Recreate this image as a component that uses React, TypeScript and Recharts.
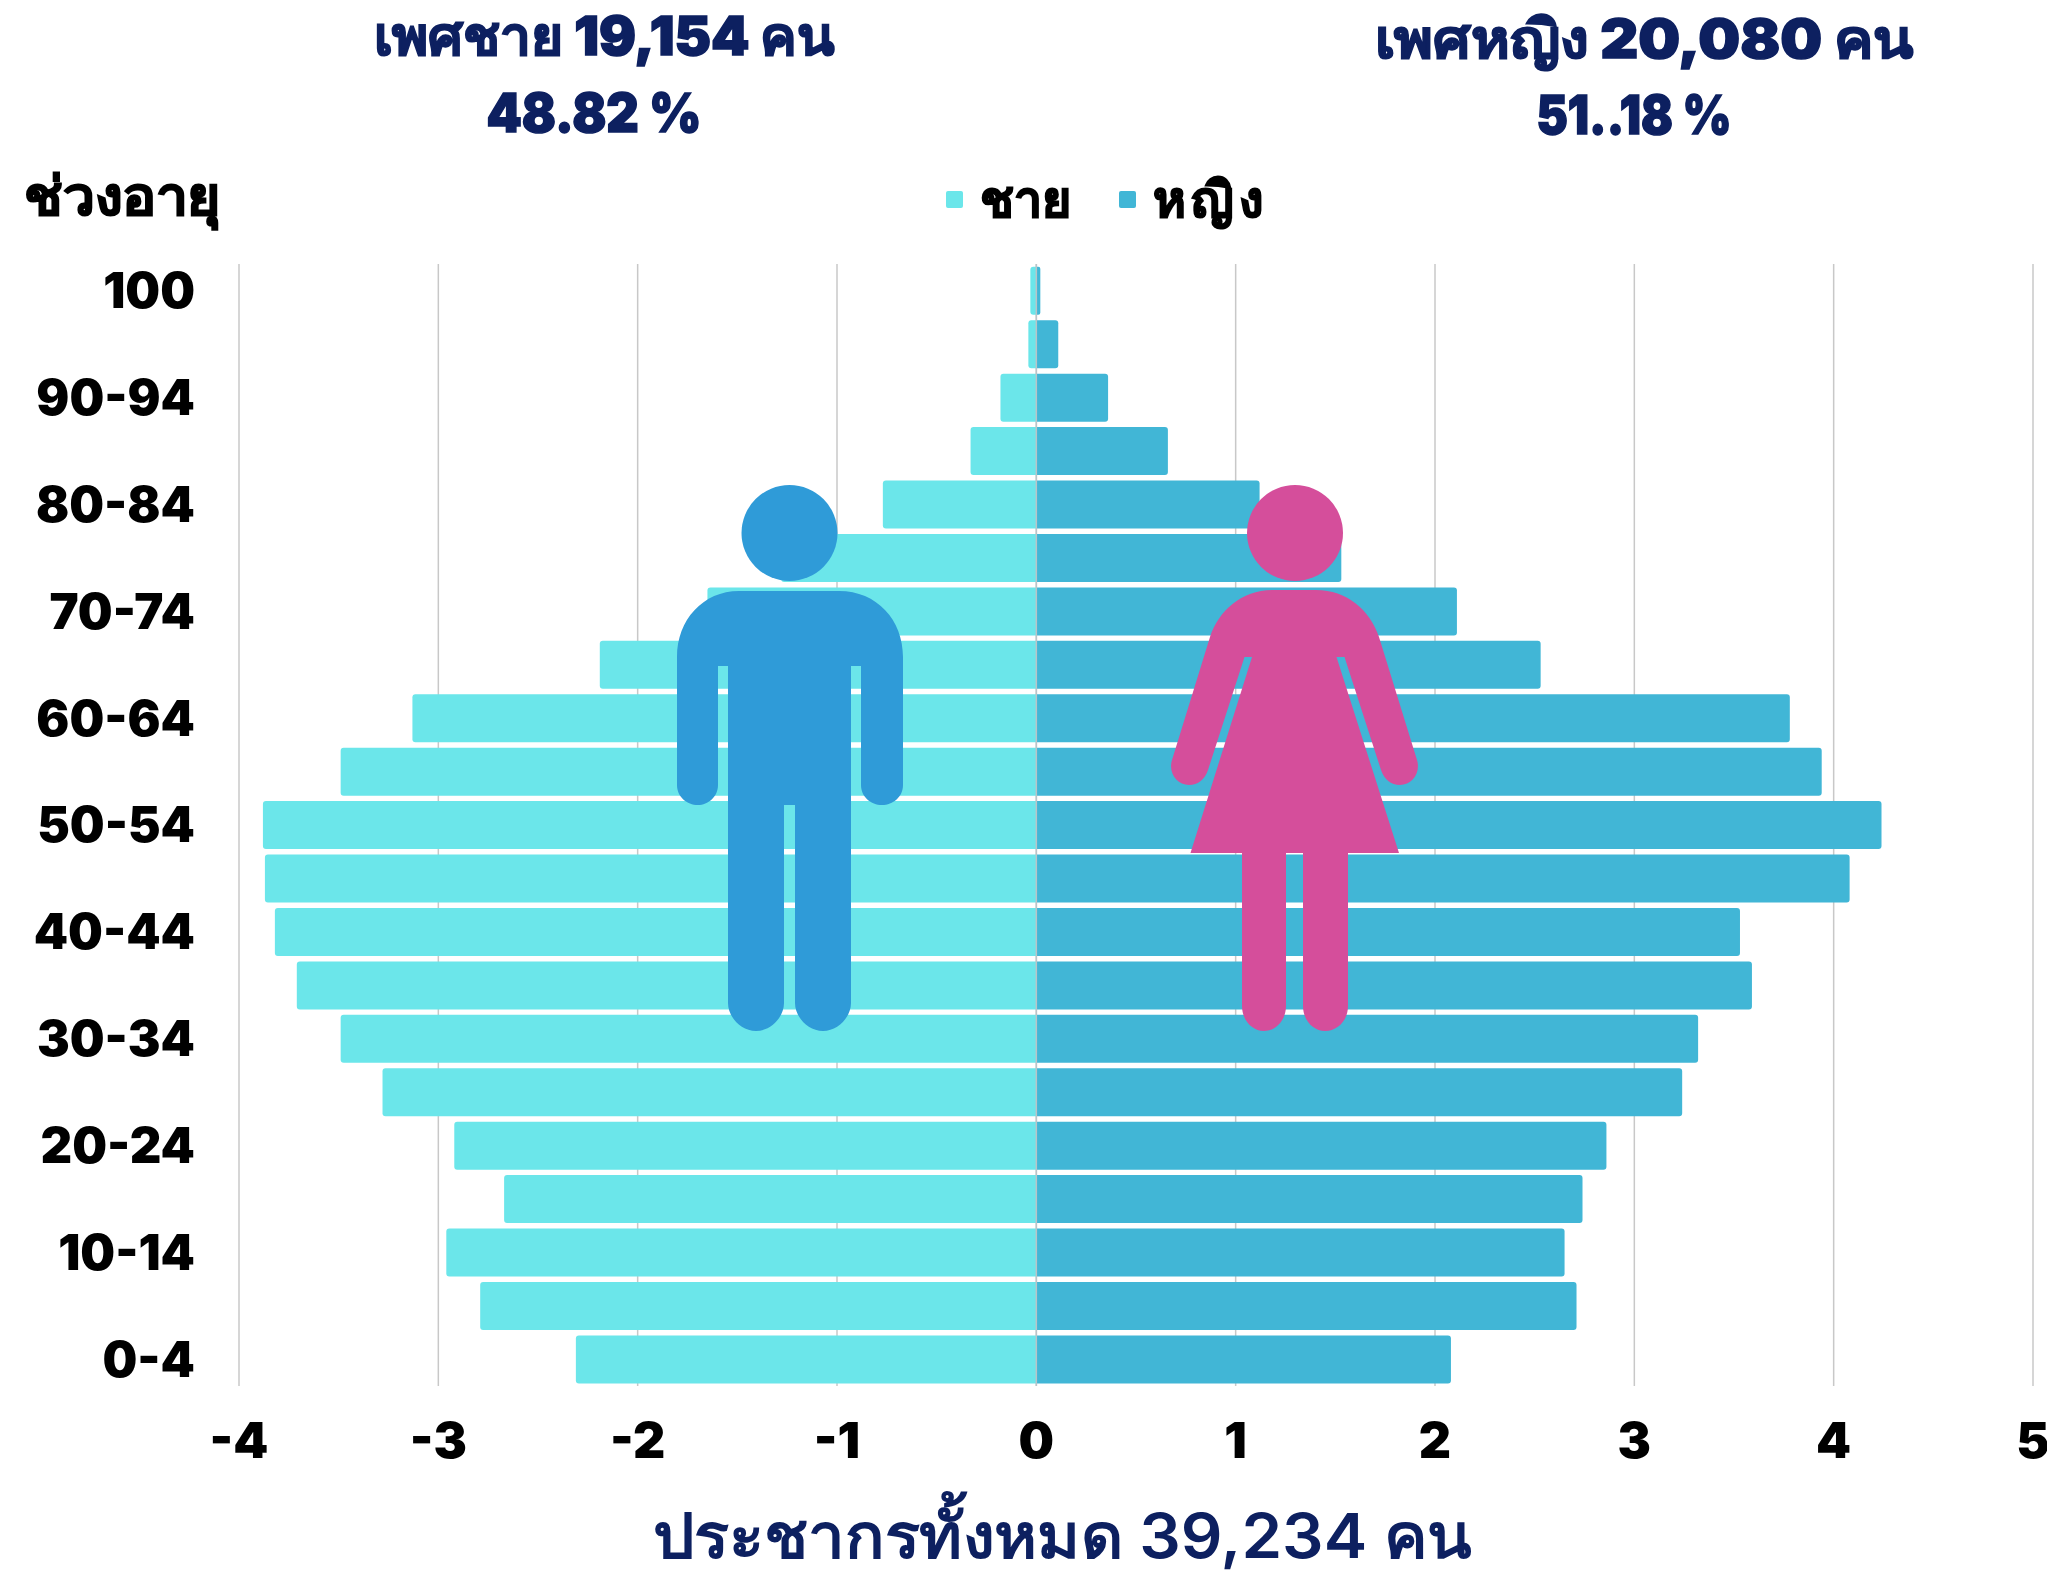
import { BarChart, Bar, XAxis, YAxis, CartesianGrid, Legend, ReferenceLine } from 'recharts';

const ageGroups = [
  '100', '95-99', '90-94', '85-89', '80-84', '75-79', '70-74', '65-69', '60-64', '55-59', '50-54',
  '45-49', '40-44', '35-39', '30-34', '25-29', '20-24', '15-19', '10-14', '5-9', '0-4'
];
const maleValues = [
  -0.03, -0.04, -0.18, -0.33, -0.77, -1.28, -1.65, -2.19, -3.13, -3.49, -3.88,
  -3.87, -3.82, -3.71, -3.49, -3.28, -2.92, -2.67, -2.96, -2.79, -2.31
];
const femaleValues = [
  0.02, 0.11, 0.36, 0.66, 1.12, 1.53, 2.11, 2.53, 3.78, 3.94, 4.24,
  4.08, 3.53, 3.59, 3.32, 3.24, 2.86, 2.74, 2.65, 2.71, 2.08
];
const xTicks = [-4, -3, -2, -1, 0, 1, 2, 3, 4, 5];

const chartData = ageGroups.map((age, i) => ({ age, male: maleValues[i], female: femaleValues[i] }));

const FONT = 'Inter, "Noto Sans", sans-serif';
const NAVY = '#0d2060';
const MALE = '#6be6ea';
const FEMALE = '#41b6d6';

const MAN_BODY =
  'M739 591 H839 C877 591 903 620 903 657 V785 C903 797 893 805 882 805 C871 805 861 797 861 785 V666 H851 V1003 ' +
  'C851 1017 838 1031 823 1031 C808 1031 795 1017 795 1003 V805 H784 V1003 C784 1017 771 1031 756 1031 ' +
  'C741 1031 728 1017 728 1003 V666 H718 V785 C718 797 708 805 698 805 C687 805 677 797 677 785 V657 C677 620 703 591 739 591 Z';

const WOMAN_BODY =
  'M1273 590 H1316 C1347 590 1370 610 1379 637 L1417 760 C1421 773 1412 785 1400 785 C1391 785 1384 779 1381 770 ' +
  'L1344.5 657 H1336.5 L1399 853 H1348 V1006 C1348 1020 1338 1031 1325 1031 C1313 1031 1303 1020 1303 1006 V853 H1286 V1006 ' +
  'C1286 1020 1276 1031 1264 1031 C1252 1031 1242 1020 1242 1006 V853 H1190.5 L1252 657 H1244.5 L1208 770 ' +
  'C1205 779 1198 785 1189 785 C1177 785 1168 773 1172 760 L1210 637 C1219 610 1242 590 1273 590 Z';

// legend drawn from the series payload so squares and labels sit like the original
function renderLegend(props: any) {
  return (
    <div style={{ display: 'flex', alignItems: 'center', fontFamily: FONT, fontWeight: 900, fontSize: 50, lineHeight: '70px', color: '#000', WebkitTextStroke: '1.5px #000' }}>
      {props.payload.map((item: any) => (
        <div key={item.value} style={{ display: 'flex', alignItems: 'center', marginRight: 48 }}>
          <span style={{ width: 17, height: 17, background: item.color, borderRadius: 2, marginRight: 17 }} />
          <span style={{ letterSpacing: item.dataKey === 'female' ? 5 : 0 }}>{item.value}</span>
        </div>
      ))}
    </div>
  );
}

export default function App() {
  return (
    <div style={{ position: 'absolute', left: 0, top: 0, width: 2047, height: 1572, background: '#fff', overflow: 'hidden' }}>
      <BarChart
        width={2047}
        height={1572}
        data={chartData}
        layout="vertical"
        stackOffset="sign"
        barCategoryGap="5.3%"
        margin={{ top: 264, right: 14, bottom: 126, left: 0 }}
      >
        <CartesianGrid horizontal={false} stroke="#c8c8c8" strokeWidth={1.5} />
        <XAxis
          type="number"
          domain={[-4, 5]}
          ticks={xTicks}
          interval={0}
          height={60}
          axisLine={false}
          tickLine={false}
          tickMargin={30}
          tick={{ fontFamily: FONT, fontWeight: 900, fontSize: 50, fill: '#000' }}
        />
        <YAxis
          type="category"
          dataKey="age"
          width={239}
          interval={1}
          axisLine={false}
          tickLine={false}
          tickMargin={38}
          tick={{ fontFamily: FONT, fontWeight: 900, fontSize: 49, fill: '#000' }}
        />
        <Legend
          layout="horizontal"
          verticalAlign="middle"
          content={renderLegend}
          wrapperStyle={{ position: 'absolute', left: 946, top: 164, width: 'auto' }}
        />
        <Bar dataKey="male" name="ชาย" stackId="pop" fill={MALE} radius={[0, 3, 3, 0]} isAnimationActive={false} />
        <Bar dataKey="female" name="หญิง" stackId="pop" fill={FEMALE} radius={[0, 3, 3, 0]} isAnimationActive={false} />
        <ReferenceLine x={0} stroke="#b9c4c8" strokeWidth={1.5} />
      </BarChart>

      <svg width={2047} height={1572} style={{ position: 'absolute', left: 0, top: 0, pointerEvents: 'none' }}>
        <circle cx={789.5} cy={533} r={48} fill="#2f9bd8" />
        <path d={MAN_BODY} fill="#2f9bd8" />
        <circle cx={1295} cy={533} r={48} fill="#d54e9b" />
        <path d={WOMAN_BODY} fill="#d54e9b" />

        <g fontFamily={FONT} fontWeight={900} fill={NAVY} stroke={NAVY} strokeWidth={1.5} textAnchor="middle" fontSize={54}>
          <text x={604} y={55} textLength={461} lengthAdjust="spacingAndGlyphs">เพศชาย 19,154 คน</text>
          <text x={594} y={132} textLength={215} lengthAdjust="spacingAndGlyphs">48.82 %</text>
          <text x={1644} y={58} textLength={539} lengthAdjust="spacingAndGlyphs">เพศหญิง 20,080 คน</text>
          <text x={1634} y={134} textLength={195} lengthAdjust="spacingAndGlyphs">51..18 %</text>
        </g>
        <text x={24} y={215} fontFamily={FONT} fontWeight={900} fontSize={54} fill="#000" stroke="#000" strokeWidth={1.5} textLength={197} lengthAdjust="spacingAndGlyphs">
          ช่วงอายุ
        </text>
        <text x={1062} y={1558} fontFamily={FONT} fontWeight={600} fontSize={62} fill={NAVY} textAnchor="middle" textLength={818} lengthAdjust="spacingAndGlyphs">
          ประชากรทั้งหมด 39,234 คน
        </text>
      </svg>
    </div>
  );
}
